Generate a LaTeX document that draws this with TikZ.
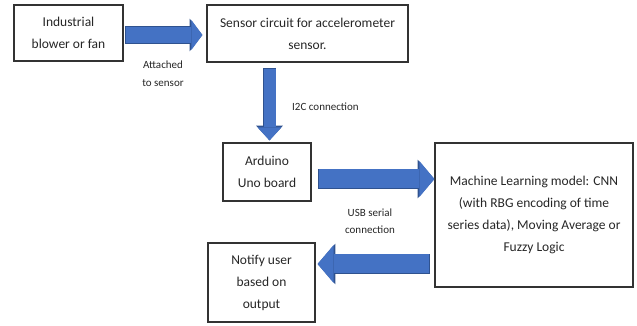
\documentclass[tikz,border=0pt]{standalone}
\usepackage{fontspec}
\setmainfont{Carlito}
\usepackage{tikz}
\usetikzlibrary{calc,arrows.meta}
\definecolor{arrowfill}{HTML}{4472C4}
\definecolor{arrowedge}{HTML}{2F528F}
\tikzset{
  box/.style={draw=black!80, line width=1.2pt, align=center, inner sep=0pt,
    text=black!85, font=\fontsize{13.5}{22}\selectfont},
  note/.style={align=center, text=black!85, inner sep=0pt,
    font=\fontsize{11}{17.5}\selectfont},
  fatarrow/.style n args={3}{arrowfill, line width=#1,
    -{Triangle[width=#2,length=#3,line width=0pt]},
    preaction={draw=arrowedge, line width=#1+1.4pt, shorten <=-0.7pt,
      -{Triangle[width=#2+2.8pt,length=#3+1.8pt,line width=0pt]}}}
}

\begin{document}
\begin{tikzpicture}[x=1pt,y=1pt]
  \useasboundingbox (0,0) rectangle (637,326);
  %\draw[thin,gray!40] (0,0) grid[step=20pt] (637,326);
  \node[box, minimum width=109pt, minimum height=56pt] (fan) at (68.5,293) {Industrial\\blower or fan};
  \node[box, minimum width=201pt, minimum height=57pt] (sensor) at (307.5,292.5) {Sensor circuit for accelerometer\\sensor.};
  \node[box, minimum width=88pt, minimum height=58pt] (arduino) at (267,154) {Arduino\\Uno board};
  \node[box, minimum width=198pt, minimum height=144pt] (ml) at (534,111)
    {Machine Learning model: CNN\\(with RBG encoding of time\\series data), Moving Average or\\Fuzzy Logic};
  \node[box, minimum width=107pt, minimum height=79pt] (notify) at (261.5,43.5) {Notify user\\based on\\output};

  \draw[fatarrow={16pt}{30pt}{11pt}] ($(fan.east)+(2,-2)$) -- ($(fan.east -| sensor.west)+(-4,-2)$);
  \node[note] (attached) at (163,252.5) {Attached\\to sensor};

  \draw[fatarrow={12pt}{24pt}{13pt}] ($(arduino.north |- sensor.south)+(2.5,-6)$) -- ($(arduino.north)+(2.5,2)$);
  \node[note, anchor=west] (i2c) at (292,219) {I2C connection};

  \draw[fatarrow={19pt}{36pt}{15pt}] ($(arduino.east)+(7,-7)$) -- ($(arduino.east -| ml.west)+(0,-7)$);
  \node[note] (usb) at (370,105) {USB serial\\connection};

  \draw[fatarrow={19pt}{38pt}{16pt}] ($(notify.east -| ml.west)+(-5,18.5)$) -- ($(notify.east)+(2,18.5)$);
\end{tikzpicture}
\end{document}
